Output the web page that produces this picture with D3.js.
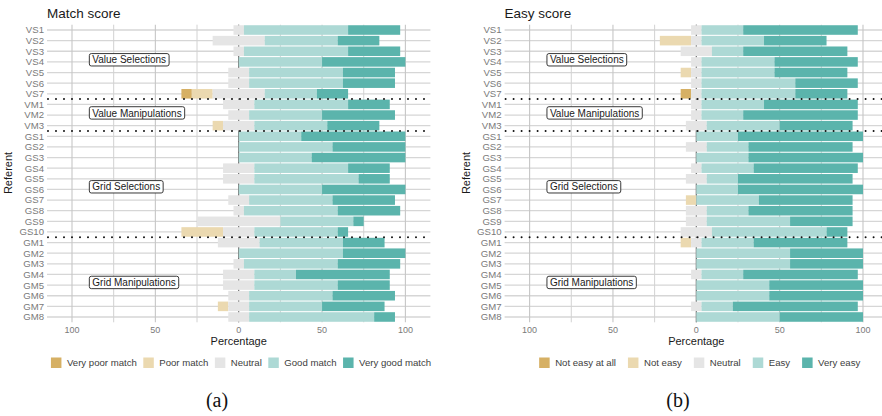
<!DOCTYPE html>
<html>
<head>
<meta charset="utf-8">
<script src="https://cdn.jsdelivr.net/npm/d3@7"></script>
<style>
  body { margin: 0; background: #fff; }
  text { font-family: "Liberation Sans", Arial, sans-serif; }
</style>
</head>
<body>
<script>
// rows of both panels, top to bottom
const referents = ['VS1','VS2','VS3','VS4','VS5','VS6','VS7','VM1','VM2','VM3',
  'GS1','GS2','GS3','GS4','GS5','GS6','GS7','GS8','GS9','GS10',
  'GM1','GM2','GM3','GM4','GM5','GM6','GM7','GM8'];

// (a) match score, percent of answers
const matchVeryPoor = [0,0,0,0,0,0,6.25, 0,0,0, 0,0,0,0,0,0,0,0,0,0, 0,0,0,0,0,0,0,0];
const matchPoor = [0,0,0,0,0,0,12.5, 0,0,6.25, 0,0,0,0,0,0,0,0,0,25, 0,0,0,0,0,0,6.25,0];
const matchNeutral = [6.25,31.25,6.25,0,12.5,12.5,31.25, 18.75,12.5,18.75,
  0,0,0,18.75,18.75,0,12.5,6.25,50,18.75, 25,0,6.25,18.75,18.75,12.5,12.5,12.5];
const matchGood = [62.5,43.75,62.5,50,56.25,56.25,31.25, 56.25,43.75,43.75,
  37.5,56.25,43.75,56.25,62.5,50,50,56.25,43.75,50, 50,62.5,56.25,25,50,50,43.75,75];
const matchVeryGood = [31.25,25,31.25,50,31.25,31.25,18.75, 25,43.75,31.25,
  62.5,43.75,56.25,25,18.75,50,37.5,37.5,6.25,6.25, 25,37.5,37.5,56.25,31.25,37.5,37.5,12.5];

// (b) easy score, percent of answers
const easyNotAtAll = [0,0,0,0,0,0,6.25, 0,0,0, 0,0,0,0,0,0,0,0,0,0, 0,0,0,0,0,0,0,0];
const easyNot = [0,18.75,0,0,6.25,0,0, 0,0,0, 0,0,0,0,0,0,6.25,0,0,0, 6.25,0,0,0,0,0,0,0];
const easyNeutral = [6.25,6.25,18.75,6.25,6.25,6.25,6.25, 6.25,6.25,12.5,
  0,12.5,0,6.25,12.5,0,0,12.5,12.5,18.75, 6.25,0,0,6.25,0,0,6.25,0];
const easyEasy = [25,37.5,18.75,43.75,43.75,56.25,56.25, 37.5,25,43.75,
  25,25,31.25,31.25,18.75,25,37.5,25,50,68.75, 31.25,56.25,56.25,25,43.75,43.75,18.75,50];
const easyVery = [68.75,37.5,62.5,50,43.75,37.5,31.25, 56.25,68.75,43.75,
  75,62.5,68.75,62.5,68.75,75,56.25,62.5,37.5,12.5, 56.25,43.75,43.75,68.75,56.25,56.25,75,50];

const matchLevels = ['Very poor match','Poor match','Neutral','Good match','Very good match'];
const easyLevels = ['Not easy at all','Not easy','Neutral','Easy','Very easy'];
const xTicks = [-100, -50, 0, 50, 100];
const xMinor = [-75, -25, 25, 75];

// group boxes: label and the (fractional) row they sit on
const groupNames = ['Value Selections','Value Manipulations','Grid Selections','Grid Manipulations'];
const groupRows = [2.8, 7.8, 14.75, 23.75];
const separators = ['VS7','VM3','GS10'];   // dotted line under these rows

const colors = ['#d6b064','#ebd9b0','#e5e5e5','#add9d5','#5bb4ac'];

const W = 882, H = 416;
const svg = d3.select('body').append('svg').attr('width', W).attr('height', H);

function panel(o) {
  const g = svg.append('g');
  const x = d3.scaleLinear().domain([-115, 115]).range([o.x0 - 191.7, o.x0 + 191.7]);
  const y = d3.scaleBand().domain(referents).range([24.7, 322.3])
      .paddingInner(0.1).paddingOuter(0.05);
  const step = y.step();
  const [left, right] = x.range();

  // title
  g.append('text').attr('x', left).attr('y', 18)
    .attr('font-size', 13.5).attr('fill', '#1a1a1a').text(o.title);

  const inner = g.append('g');

  // grid
  inner.selectAll('.hg').data(referents).enter().append('line')
    .attr('x1', left).attr('x2', right)
    .attr('y1', d => y(d) + y.bandwidth() / 2).attr('y2', d => y(d) + y.bandwidth() / 2)
    .attr('stroke', '#d6d6d6').attr('stroke-width', 1.3);
  inner.selectAll('.vmin').data(xMinor).enter().append('line')
    .attr('x1', d => x(d)).attr('x2', d => x(d)).attr('y1', 24.7).attr('y2', 322.3)
    .attr('stroke', '#d2d2d2').attr('stroke-width', 1);
  inner.selectAll('.vmaj').data(xTicks).enter().append('line')
    .attr('x1', d => x(d)).attr('x2', d => x(d)).attr('y1', 24.7).attr('y2', 322.3)
    .attr('stroke', '#c6c6c6').attr('stroke-width', 1.1);
  // zero line (behind bars)
  inner.append('line').attr('x1', x(0)).attr('x2', x(0)).attr('y1', 24.7).attr('y2', 322.3)
    .attr('stroke', '#555').attr('stroke-width', 0.9);

  // stacked bars, neutral split over zero
  const segs = [];
  referents.forEach((r, i) => {
    const v = o.series.map(s => s[i]);
    let start = -(v[0] + v[1] + v[2] / 2);
    v.forEach((val, k) => {
      if (val > 0) segs.push({ r: r, k: k, a: start, b: start + val });
      start += val;
    });
  });
  inner.selectAll('.bar').data(segs).enter().append('rect')
    .attr('x', d => x(d.a)).attr('width', d => x(d.b) - x(d.a))
    .attr('y', d => y(d.r)).attr('height', y.bandwidth())
    .attr('fill', d => colors[d.k]);

  // dotted separators
  inner.selectAll('.sep').data(separators).enter().append('line')
    .attr('x1', left + 1).attr('x2', right)
    .attr('y1', d => y(d) + y.bandwidth() + step * 0.05)
    .attr('y2', d => y(d) + y.bandwidth() + step * 0.05)
    .attr('stroke', '#111').attr('stroke-width', 2)
    .attr('stroke-linecap', 'round').attr('stroke-dasharray', '0,8');

  // group labels with rounded box
  groupNames.forEach((name, i) => {
    const cy = y(referents[0]) + y.bandwidth() / 2 + groupRows[i] * step;
    const lg = inner.append('g');
    const t = lg.append('text').attr('x', x(-89.6) + 3).attr('y', cy + 3.6)
      .attr('font-size', 10).attr('fill', '#1a1a1a').text(name);
    const bb = t.node().getBBox();
    lg.insert('rect', 'text').attr('x', x(-89.6)).attr('y', cy - 6.2)
      .attr('width', bb.width + 6).attr('height', 12.4)
      .attr('rx', 2).attr('fill', '#fff').attr('stroke', '#222').attr('stroke-width', 0.9);
  });

  // y labels
  g.selectAll('.yl').data(referents).enter().append('text')
    .attr('x', left - 3).attr('y', d => y(d) + y.bandwidth() / 2 + 3.4)
    .attr('text-anchor', 'end').attr('font-size', 9.6).attr('fill', '#7a7a7a').text(d => d);
  g.append('text').attr('transform', `translate(${left - 35},${173}) rotate(-90)`)
    .attr('text-anchor', 'middle').attr('font-size', 11).attr('fill', '#1a1a1a').text('Referent');

  // x tick labels
  g.selectAll('.xl').data(xTicks).enter().append('text')
    .attr('x', d => x(d)).attr('y', 333)
    .attr('text-anchor', 'middle').attr('font-size', 9).attr('fill', '#7a7a7a')
    .text(d => Math.abs(d));
  g.append('text').attr('x', x(0)).attr('y', 345)
    .attr('text-anchor', 'middle').attr('font-size', 11).attr('fill', '#1a1a1a').text('Percentage');

  // legend, centered on the zero point
  const leg = g.append('g');
  let cx = 0;
  o.levels.forEach((lab, k) => {
    leg.append('rect').attr('x', cx).attr('y', 357.5).attr('width', 10.5).attr('height', 10.5)
      .attr('fill', colors[k]);
    const t = leg.append('text').attr('x', cx + 16).attr('y', 366.2)
      .attr('font-size', 9.6).attr('fill', '#3d3d3d').text(lab);
    cx += 16 + t.node().getComputedTextLength() + o.legGap;
  });
  const legW = cx - o.legGap;
  leg.attr('transform', `translate(${o.legCenter - legW / 2},0)`);

  // caption
  svg.append('text').attr('x', o.capX).attr('y', 407).attr('text-anchor', 'middle')
    .style('font-family', '"Liberation Serif", "DejaVu Serif", serif')
    .attr('font-size', 20).attr('fill', '#111').text(o.caption);
}

panel({ title: 'Match score', x0: 238.7, levels: matchLevels,
  series: [matchVeryPoor, matchPoor, matchNeutral, matchGood, matchVeryGood],
  legGap: 6.5, legCenter: 241, capX: 217, caption: '(a)' });

panel({ title: 'Easy score', x0: 696.3, levels: easyLevels,
  series: [easyNotAtAll, easyNot, easyNeutral, easyEasy, easyVery],
  legGap: 12, legCenter: 699.7, capX: 678, caption: '(b)' });
</script>
</body>
</html>
